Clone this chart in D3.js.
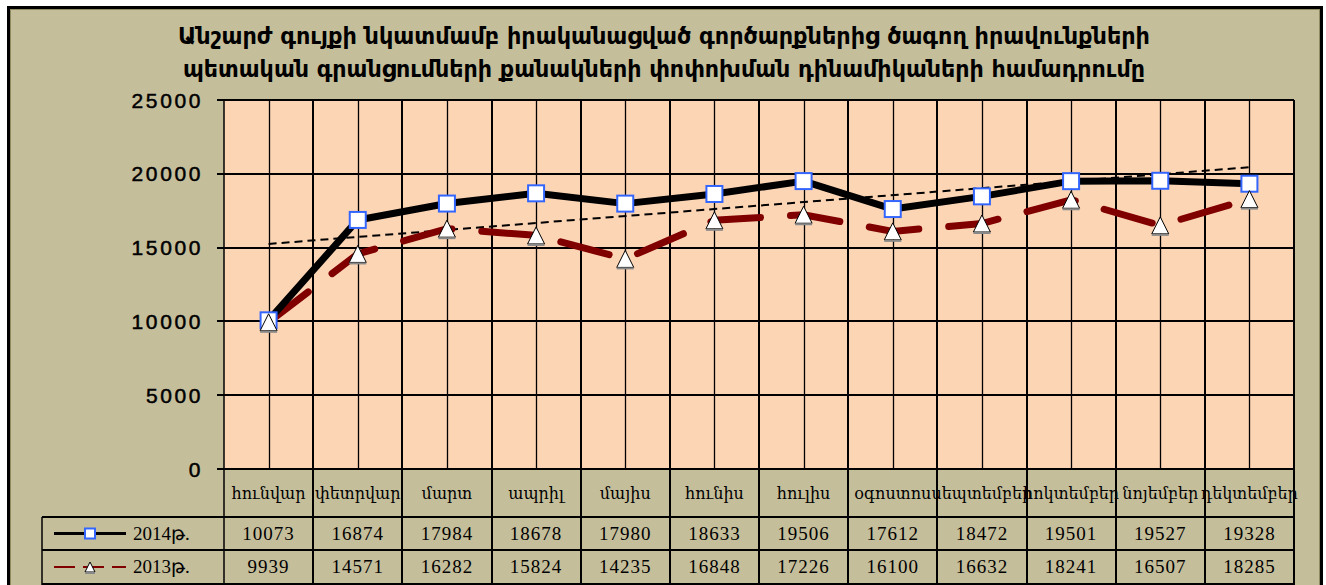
<!DOCTYPE html>
<html>
<head>
<meta charset="utf-8">
<script src="https://cdn.jsdelivr.net/npm/d3@7.9.0/dist/d3.min.js"></script>
<style>
  body { margin: 0; background: #fff; }
  svg { display: block; }
</style>
</head>
<body>
<svg id="chart" width="1326" height="585"></svg>
<script>
// chart data
const titleLines = [
    "Անշարժ գույքի նկատմամբ իրականացված գործարքներից ծագող իրավունքների",
    "պետական գրանցումների քանակների փոփոխման դինամիկաների համադրումը"
];
const months = ["հունվար", "փետրվար", "մարտ", "ապրիլ", "մայիս", "հունիս",
    "հուլիս", "օգոստոս", "սեպտեմբեր", "հոկտեմբեր", "նոյեմբեր", "դեկտեմբեր"];
const values2014 = [10073, 16874, 17984, 18678, 17980, 18633, 19506, 17612, 18472, 19501, 19527, 19328];
const values2013 = [9939, 14571, 16282, 15824, 14235, 16848, 17226, 16100, 16632, 18241, 16507, 18285];
const seriesNames = ["2014թ.", "2013թ."];
const yTicks = [0, 5000, 10000, 15000, 20000, 25000];

const svg = d3.select("#chart");
const bg = "#c5be9b";
const plot = { left: 224, right: 1294, top: 100, bottom: 469 };
const rowY = [469, 517, 550, 584]; // table rows: header, 2014, 2013

const x = d3.scaleBand().domain(months).range([plot.left, plot.right]);
const y = d3.scaleLinear().domain([0, 25000]).range([plot.bottom, plot.top]);
const cx = m => x(m) + x.bandwidth() / 2;

// chart frame
svg.append("rect").attr("x", 8.5).attr("y", 7.5).attr("width", 1313).attr("height", 600)
    .attr("fill", bg).attr("stroke", "#000").attr("stroke-width", 3);
svg.append("rect").attr("x", 10.5).attr("y", 9.5).attr("width", 1309).attr("height", 600)
    .attr("fill", "none").attr("stroke", "#8f8a62").attr("stroke-width", 1);

// title
svg.selectAll(".title").data(titleLines).enter().append("text")
    .attr("x", 664).attr("y", (d, i) => 44 + i * 33)
    .attr("text-anchor", "middle")
    .attr("textLength", (d, i) => i === 0 ? 972 : 962)
    .attr("lengthAdjust", "spacingAndGlyphs")
    .style("font-family", "'DejaVu Sans Condensed', 'DejaVu Sans', sans-serif")
    .style("font-weight", "bold").style("font-size", "23px")
    .text(d => d);

// plot area
svg.append("rect").attr("x", plot.left).attr("y", plot.top)
    .attr("width", plot.right - plot.left).attr("height", plot.bottom - plot.top)
    .attr("fill", "#fcd5b5");

// vertical grid: category centres (thin, plot only)
svg.selectAll(".vmid").data(months).enter().append("line")
    .attr("x1", d => Math.round(cx(d)) + 0.5).attr("x2", d => Math.round(cx(d)) + 0.5)
    .attr("y1", plot.top).attr("y2", plot.bottom)
    .attr("stroke", "#000").attr("stroke-width", 1.3);

// vertical grid: category boundaries (through plot and table)
const bounds = months.map(m => x(m)).concat([plot.right]);
svg.selectAll(".vb").data(bounds).enter().append("line")
    .attr("x1", d => Math.round(d)).attr("x2", d => Math.round(d))
    .attr("y1", plot.top).attr("y2", 600)
    .attr("stroke", "#000").attr("stroke-width", (d, i) => i === 0 ? 1.5 : 2);

// horizontal grid + ticks
svg.selectAll(".hg").data(yTicks).enter().append("line")
    .attr("x1", 217).attr("x2", plot.right)
    .attr("y1", d => Math.round(y(d))).attr("y2", d => Math.round(y(d)))
    .attr("stroke", "#000").attr("stroke-width", 2);

svg.selectAll(".yl").data(yTicks).enter().append("text")
    .attr("x", 203).attr("y", d => y(d) + 7.5)
    .attr("text-anchor", "end")
    .style("font-family", "'Liberation Sans', Arial, sans-serif")
    .style("font-size", "21px").style("letter-spacing", "2.6px")
    .attr("stroke", "#000").attr("stroke-width", 0.5)
    .text(d => d);

// trend line for 2014 (linear least squares)
const xs = values2014.map((d, i) => i + 1);
const mx = d3.mean(xs), my = d3.mean(values2014);
const slope = d3.sum(xs, (v, i) => (v - mx) * (values2014[i] - my)) / d3.sum(xs, v => (v - mx) ** 2);
const trend = [0, months.length - 1].map(i => ({ m: months[i], v: my + slope * (i + 1 - mx) }));
svg.append("path")
    .attr("d", d3.line().x(d => cx(d.m)).y(d => y(d.v))(trend))
    .attr("fill", "none").attr("stroke", "#000").attr("stroke-width", 2)
    .attr("stroke-dasharray", "8,5");

const line = d3.line().x(d => cx(d.m)).y(d => y(d.v));
const data2014 = months.map((m, i) => ({ m, v: values2014[i] }));
const data2013 = months.map((m, i) => ({ m, v: values2013[i] }));

// 2013 series: dark red long dash
svg.append("path").attr("d", line(data2013))
    .attr("fill", "none").attr("stroke", "#800000").attr("stroke-width", 7)
    .attr("stroke-linecap", "round").attr("stroke-dasharray", "50,30");

// 2014 series: black solid
svg.append("path").attr("d", line(data2014))
    .attr("fill", "none").attr("stroke", "#000").attr("stroke-width", 7)
    .attr("stroke-linejoin", "round");

function square(g, px, py, s) {
    g.append("rect").attr("x", px - s / 2).attr("y", py - s / 2)
        .attr("width", s).attr("height", s)
        .attr("fill", "#fff").attr("stroke", "#3366ff").attr("stroke-width", 2);
}
function triangle(g, px, py, s) {
    const h = s;
    g.append("path")
        .attr("d", `M${px},${py - h / 2}L${px + s / 2},${py + h / 2}L${px - s / 2},${py + h / 2}Z`)
        .attr("fill", "#fff").attr("stroke", "#000").attr("stroke-width", 1);
    g.append("line").attr("x1", px - s / 2).attr("x2", px + s / 2)
        .attr("y1", py + h / 2 + 1).attr("y2", py + h / 2 + 1)
        .attr("stroke", "#888").attr("stroke-width", 2);
}

const marks = svg.append("g");
data2014.forEach(d => square(marks, cx(d.m), y(d.v), 16));
data2013.forEach(d => triangle(marks, cx(d.m), y(d.v), 17));

// data table
svg.selectAll(".rl").data([rowY[1], rowY[2], rowY[3]]).enter().append("line")
    .attr("x1", 42).attr("x2", plot.right)
    .attr("y1", d => d).attr("y2", d => d)
    .attr("stroke", "#000").attr("stroke-width", 2);
svg.append("line").attr("x1", 42).attr("x2", 42).attr("y1", rowY[1]).attr("y2", 600)
    .attr("stroke", "#000").attr("stroke-width", 1.5);

svg.selectAll(".cat").data(months).enter().append("text")
    .attr("x", d => cx(d)).attr("y", (rowY[0] + rowY[1]) / 2 + 6)
    .attr("text-anchor", "middle")
    .style("font-family", "'DejaVu Serif', serif")
    .style("font-size", "16px")
    .text(d => d);

const tableFont = "'Liberation Serif', 'Times New Roman', serif";
[values2014, values2013].forEach((vals, r) => {
    const yy = (rowY[r + 1] + rowY[r + 2]) / 2 + 6;
    svg.selectAll(".v" + r).data(vals).enter().append("text")
        .attr("x", (d, i) => cx(months[i])).attr("y", yy)
        .attr("text-anchor", "middle")
        .style("font-family", tableFont).style("font-size", "19px")
        .style("letter-spacing", "1px")
        .text(d => d);
    // legend key
    const ly = (rowY[r + 1] + rowY[r + 2]) / 2;
    const key = svg.append("g");
    if (r === 0) {
        key.append("line").attr("x1", 54).attr("x2", 126).attr("y1", ly).attr("y2", ly)
            .attr("stroke", "#000").attr("stroke-width", 3);
        square(key, 90, ly, 10);
    } else {
        key.append("line").attr("x1", 54).attr("x2", 126).attr("y1", ly).attr("y2", ly)
            .attr("stroke", "#800000").attr("stroke-width", 2)
            .attr("stroke-dasharray", "21,8");
        triangle(key, 90, ly, 10);
    }
    key.append("text").attr("x", 133).attr("y", yy)
        .style("font-family", tableFont).style("font-size", "19px")
        .text(seriesNames[r]);
});
</script>
</body>
</html>
